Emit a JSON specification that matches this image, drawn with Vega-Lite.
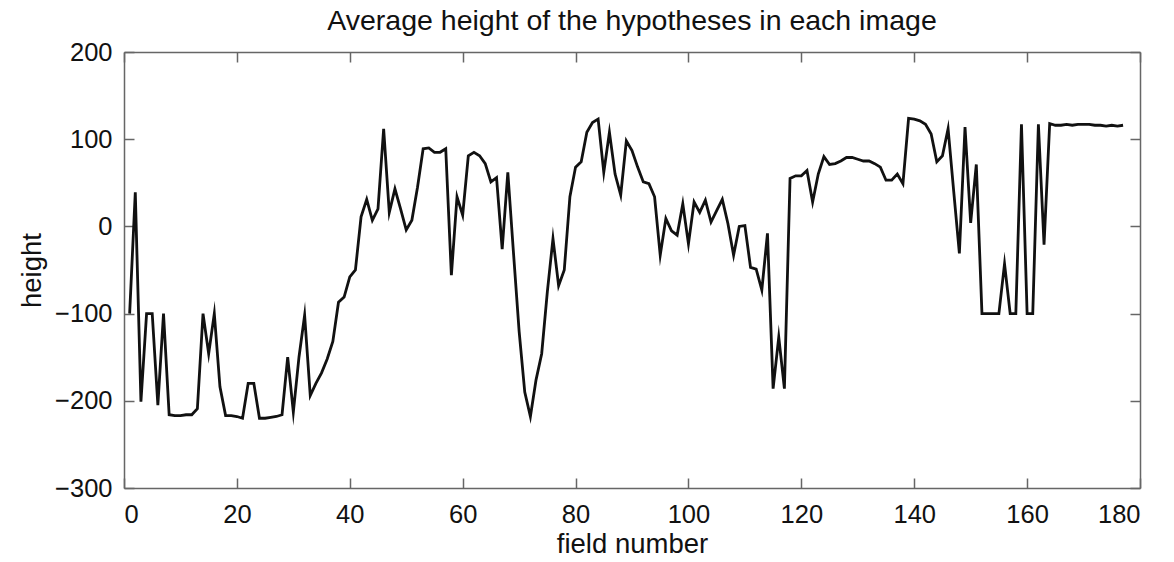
{
  "$schema": "https://vega.github.io/schema/vega-lite/v6.json",
  "width": 1016,
  "height": 436,
  "autosize": "none",
  "padding": {"left": 124, "top": 52, "right": 34, "bottom": 74},
  "background": "white",
  "title": {"text": "Average height of the hypotheses in each image", "font": "Liberation Sans", "fontSize": 28.5, "fontWeight": "normal", "color": "#111", "offset": 5, "anchor": "middle"},
  "config": {
    "view": {"stroke": null},
    "axis": {"domainColor": "#666", "domainWidth": 1.5, "tickColor": "#666", "tickWidth": 1.5, "tickSize": -10, "labelFont": "Liberation Sans", "labelFontSize": 25.5, "labelColor": "#111", "titleFont": "Liberation Sans", "titleFontSize": 27.5, "titleFontWeight": "normal", "titleColor": "#111", "grid": false}
  },
  "data": {"values": [
    {"field": 1, "h": -100}, {"field": 2, "h": 39}, {"field": 3, "h": -201}, {"field": 4, "h": -100}, {"field": 5, "h": -100},
    {"field": 6, "h": -205}, {"field": 7, "h": -100}, {"field": 8, "h": -216}, {"field": 9, "h": -217}, {"field": 10, "h": -217},
    {"field": 11, "h": -216}, {"field": 12, "h": -216}, {"field": 13, "h": -209}, {"field": 14, "h": -100}, {"field": 15, "h": -146},
    {"field": 16, "h": -100}, {"field": 17, "h": -184}, {"field": 18, "h": -217}, {"field": 19, "h": -217}, {"field": 20, "h": -218},
    {"field": 21, "h": -220}, {"field": 22, "h": -180}, {"field": 23, "h": -180}, {"field": 24, "h": -220}, {"field": 25, "h": -220},
    {"field": 26, "h": -219}, {"field": 27, "h": -218}, {"field": 28, "h": -216}, {"field": 29, "h": -150}, {"field": 30, "h": -213},
    {"field": 31, "h": -150}, {"field": 32, "h": -102}, {"field": 33, "h": -194}, {"field": 34, "h": -180}, {"field": 35, "h": -168},
    {"field": 36, "h": -152}, {"field": 37, "h": -132}, {"field": 38, "h": -87}, {"field": 39, "h": -81}, {"field": 40, "h": -58},
    {"field": 41, "h": -50}, {"field": 42, "h": 11}, {"field": 43, "h": 31}, {"field": 44, "h": 7}, {"field": 45, "h": 20},
    {"field": 46, "h": 112}, {"field": 47, "h": 16}, {"field": 48, "h": 43}, {"field": 49, "h": 20}, {"field": 50, "h": -4},
    {"field": 51, "h": 7}, {"field": 52, "h": 45}, {"field": 53, "h": 89}, {"field": 54, "h": 90}, {"field": 55, "h": 85},
    {"field": 56, "h": 85}, {"field": 57, "h": 89}, {"field": 58, "h": -56}, {"field": 59, "h": 34}, {"field": 60, "h": 13},
    {"field": 61, "h": 81}, {"field": 62, "h": 85}, {"field": 63, "h": 81}, {"field": 64, "h": 72}, {"field": 65, "h": 51},
    {"field": 66, "h": 56}, {"field": 67, "h": -26}, {"field": 68, "h": 62}, {"field": 69, "h": -30}, {"field": 70, "h": -120},
    {"field": 71, "h": -190}, {"field": 72, "h": -218}, {"field": 73, "h": -176}, {"field": 74, "h": -146}, {"field": 75, "h": -75},
    {"field": 76, "h": -14}, {"field": 77, "h": -68}, {"field": 78, "h": -50}, {"field": 79, "h": 34}, {"field": 80, "h": 68},
    {"field": 81, "h": 74}, {"field": 82, "h": 108}, {"field": 83, "h": 119}, {"field": 84, "h": 123}, {"field": 85, "h": 62},
    {"field": 86, "h": 108}, {"field": 87, "h": 60}, {"field": 88, "h": 36}, {"field": 89, "h": 98}, {"field": 90, "h": 87},
    {"field": 91, "h": 68}, {"field": 92, "h": 51}, {"field": 93, "h": 49}, {"field": 94, "h": 34}, {"field": 95, "h": -33},
    {"field": 96, "h": 9}, {"field": 97, "h": -5}, {"field": 98, "h": -10}, {"field": 99, "h": 26}, {"field": 100, "h": -20},
    {"field": 101, "h": 28}, {"field": 102, "h": 16}, {"field": 103, "h": 30}, {"field": 104, "h": 5}, {"field": 105, "h": 18},
    {"field": 106, "h": 31}, {"field": 107, "h": 3}, {"field": 108, "h": -33}, {"field": 109, "h": 0}, {"field": 110, "h": 1},
    {"field": 111, "h": -47}, {"field": 112, "h": -49}, {"field": 113, "h": -73}, {"field": 114, "h": -8}, {"field": 115, "h": -186},
    {"field": 116, "h": -127}, {"field": 117, "h": -186}, {"field": 118, "h": 55}, {"field": 119, "h": 58}, {"field": 120, "h": 58},
    {"field": 121, "h": 64}, {"field": 122, "h": 28}, {"field": 123, "h": 60}, {"field": 124, "h": 80}, {"field": 125, "h": 71},
    {"field": 126, "h": 72}, {"field": 127, "h": 75}, {"field": 128, "h": 79}, {"field": 129, "h": 79}, {"field": 130, "h": 77},
    {"field": 131, "h": 75}, {"field": 132, "h": 75}, {"field": 133, "h": 72}, {"field": 134, "h": 68}, {"field": 135, "h": 53},
    {"field": 136, "h": 53}, {"field": 137, "h": 60}, {"field": 138, "h": 49}, {"field": 139, "h": 124}, {"field": 140, "h": 123},
    {"field": 141, "h": 121}, {"field": 142, "h": 117}, {"field": 143, "h": 106}, {"field": 144, "h": 74}, {"field": 145, "h": 81},
    {"field": 146, "h": 112}, {"field": 147, "h": 40}, {"field": 148, "h": -31}, {"field": 149, "h": 114}, {"field": 150, "h": 4},
    {"field": 151, "h": 71}, {"field": 152, "h": -100}, {"field": 153, "h": -100}, {"field": 154, "h": -100}, {"field": 155, "h": -100},
    {"field": 156, "h": -43}, {"field": 157, "h": -100}, {"field": 158, "h": -100}, {"field": 159, "h": 117}, {"field": 160, "h": -100},
    {"field": 161, "h": -100}, {"field": 162, "h": 117}, {"field": 163, "h": -21}, {"field": 164, "h": 118}, {"field": 165, "h": 116},
    {"field": 166, "h": 116}, {"field": 167, "h": 117}, {"field": 168, "h": 116}, {"field": 169, "h": 117}, {"field": 170, "h": 117},
    {"field": 171, "h": 117}, {"field": 172, "h": 116}, {"field": 173, "h": 116}, {"field": 174, "h": 115}, {"field": 175, "h": 116},
    {"field": 176, "h": 115}, {"field": 177, "h": 116}
  ]},
  "layer": [
    {
      "mark": {"type": "line", "color": "#111", "strokeWidth": 2.8, "strokeJoin": "miter", "strokeMiterLimit": 10},
      "encoding": {
        "x": {"field": "field", "type": "quantitative", "scale": {"domain": [0, 180], "nice": false, "zero": false}, "axis": {"orient": "bottom", "title": "field number", "values": [0, 20, 40, 60, 80, 100, 120, 140, 160, 180], "labelPadding": 24, "titlePadding": 3}},
        "y": {"field": "h", "type": "quantitative", "scale": {"domain": [-300, 200], "nice": false, "zero": false}, "axis": {"orient": "left", "title": "height", "values": [-300, -200, -100, 0, 100, 200], "labelPadding": 22, "titlePadding": 8}}
      }
    },
    {
      "mark": {"type": "line", "opacity": 0},
      "encoding": {
        "x": {"field": "field", "type": "quantitative", "axis": {"orient": "top", "title": null, "labels": false, "values": [0, 20, 40, 60, 80, 100, 120, 140, 160, 180]}},
        "y": {"field": "h", "type": "quantitative", "axis": {"orient": "right", "title": null, "labels": false, "values": [-300, -200, -100, 0, 100, 200]}}
      }
    }
  ],
  "resolve": {"axis": {"x": "independent", "y": "independent"}}
}
